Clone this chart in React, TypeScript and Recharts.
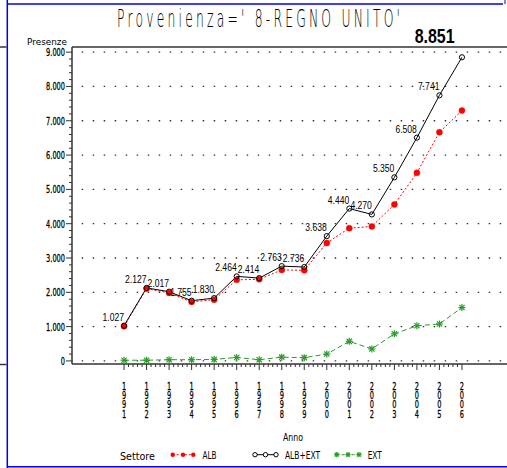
import React from 'react';
import { LineChart, Line, XAxis, YAxis, ReferenceLine, LabelList, Legend } from 'recharts';

// ---------- data ----------
const years = [1991, 1992, 1993, 1994, 1995, 1996, 1997, 1998, 1999, 2000, 2001, 2002, 2003, 2004, 2005, 2006];
const albExt = [1027, 2127, 2017, 1755, 1830, 2464, 2414, 2763, 2736, 3638, 4440, 4270, 5350, 6508, 7741, 8851];
const alb = [1007, 2107, 1982, 1720, 1785, 2364, 2379, 2653, 2641, 3438, 3870, 3920, 4560, 5483, 6666, 7296];
const ext = [20, 20, 35, 35, 45, 100, 35, 110, 95, 200, 570, 350, 790, 1025, 1075, 1555];
const yMajorTicks = [0, 1000, 2000, 3000, 4000, 5000, 6000, 7000, 8000, 9000];
const titleText = "Provenienza=' 8-REGNO UNITO'";
const yLabel = 'Presenze';
const xLabel = 'Anno';
const legendTitle = 'Settore';
const seriesNames = ['ALB', 'ALB+EXT', 'EXT'];

const data = years.map((year, i) => ({ year, alb: alb[i], albExt: albExt[i], ext: ext[i] }));

// minor tick positions (axis decoration)
const yTicks: number[] = [];
for (let v = 0; v <= 9000; v += 200) yTicks.push(v);
const xTicks: number[] = [];
for (let i = 0; i <= (2006 - 1991) * 5; i++) xTicks.push(1991 + i / 5);

const Y_DOMAIN: [number, number] = [-90, 9150];
const X_DOMAIN: [number, number] = [1988.69, 2008.31];

const RED = '#ff0000';
const GREEN = '#2a9a2a';
const AXIS = '#333333';
const NARROW = "'DejaVu Sans', sans-serif";
const LABELF = "'Liberation Sans', Arial, sans-serif";

const fmt = (v: number) => String(Math.round(v)).replace(/\B(?=(\d{3})+(?!\d))/g, '.');

const YTick = (props: any) => {
  const { x, y, payload } = props;
  const v = payload.value;
  const major = Math.abs(v % 1000) < 1e-6;
  return (
    <g>
      <line x1={x - (major ? 6 : 3)} x2={x} y1={y} y2={y} stroke={AXIS} strokeWidth={1} />
      {major && (
        <text transform={`translate(${x - 7},${y + 4}) scale(0.6,1)`} textAnchor="end" fontSize={11} fontFamily={NARROW} fill="#000" stroke="#000" strokeWidth={0.3}>
          {fmt(v)}
        </text>
      )}
    </g>
  );
};

const XTick = (props: any) => {
  const { x, y, payload } = props;
  const v = payload.value;
  const major = Math.abs(v - Math.round(v)) < 1e-6;
  return (
    <g>
      <line x1={x} x2={x} y1={y} y2={y + (major ? 6 : 3)} stroke={AXIS} strokeWidth={1} />
      {major && (
        <text
          transform={`translate(${x},${y + 16.2}) scale(0.6,1)`}
          x={0}
          y={0}
          fontSize={11}
          fontFamily={NARROW}
          fill="#000"
          stroke="#000"
          strokeWidth={0.3}
          textLength={40}
          lengthAdjust="spacing"
          style={{ writingMode: 'vertical-rl', textOrientation: 'upright' } as any}
        >
          {String(Math.round(v))}
        </text>
      )}
    </g>
  );
};

const RedDot = (props: any) => {
  const { cx, cy } = props;
  if (cx == null || cy == null) return <g />;
  return <circle cx={cx} cy={cy} r={3} fill={RED} stroke={RED} strokeWidth={0.5} />;
};

const OpenDot = (props: any) => {
  const { cx, cy } = props;
  if (cx == null || cy == null) return <g />;
  return <circle cx={cx} cy={cy} r={2.6} fill="none" stroke="#000" strokeWidth={1} />;
};

const Star = ({ cx, cy, r = 3.5 }: { cx: number; cy: number; r?: number }) => {
  const d = r * 0.75;
  return (
    <g stroke={GREEN} strokeWidth={1.2}>
      <line x1={cx - r} y1={cy} x2={cx + r} y2={cy} />
      <line x1={cx} y1={cy - r} x2={cx} y2={cy + r} />
      <line x1={cx - d} y1={cy - d} x2={cx + d} y2={cy + d} />
      <line x1={cx - d} y1={cy + d} x2={cx + d} y2={cy - d} />
    </g>
  );
};

const StarDot = (props: any) => {
  const { cx, cy } = props;
  if (cx == null || cy == null) return <g />;
  return <Star cx={cx} cy={cy} />;
};

const renderLabel = (props: any) => {
  const { x, y, value, index } = props;
  if (x == null || y == null) return null;
  if (index === albExt.length - 1) {
    return (
      <text transform={`translate(${x - 27.3},${y - 14}) scale(0.76,1)`} textAnchor="middle" fontSize={21} fontWeight="bold" fontFamily={LABELF} fill="#000">
        {fmt(value)}
      </text>
    );
  }
  return (
    <text transform={`translate(${x},${y - 5}) scale(0.78,1)`} textAnchor="end" fontSize={11} fontFamily={LABELF} fill="#000">
      {fmt(value)}
    </text>
  );
};

const NT = ({ x, y, w, size, anchor = 'start', children }: any) => (
  <text x={x} y={y} textLength={w} lengthAdjust="spacingAndGlyphs" fontSize={size} fontFamily={NARROW} textAnchor={anchor} fill="#000">
    {children}
  </text>
);

const renderLegend = () => (
  <svg width={507} height={28} style={{ display: 'block' }}>
    <g transform="translate(0,-440)">
      <NT x={120} y={460} w={35} size={11}>{legendTitle}</NT>
      {/* ALB */}
      <line x1={172.7} x2={193.3} y1={454.7} y2={454.7} stroke={RED} strokeDasharray="2 2" />
      {[172.7, 183, 193.3].map((cx, i) => (
        <circle key={i} cx={cx} cy={454.7} r={2.2} fill={RED} />
      ))}
      <NT x={202.5} y={459} w={14} size={10.5}>{seriesNames[0]}</NT>
      {/* ALB+EXT */}
      <line x1={255} x2={276} y1={454.7} y2={454.7} stroke="#000" />
      {[255, 265.5, 276].map((cx, i) => (
        <circle key={i} cx={cx} cy={454.7} r={2.2} fill="#fff" stroke="#000" />
      ))}
      <NT x={285} y={459} w={35} size={10.5}>{seriesNames[1]}</NT>
      {/* EXT */}
      <line x1={336.7} x2={359} y1={454.7} y2={454.7} stroke={GREEN} strokeDasharray="3 2" />
      {[336.7, 348, 359].map((cx, i) => (
        <Star key={i} cx={cx} cy={454.7} r={2.6} />
      ))}
      <NT x={367.7} y={459} w={14} size={10.5}>{seriesNames[2]}</NT>
    </g>
  </svg>
);

export default function App() {
  return (
    <div style={{ position: 'absolute', left: 0, top: 0, width: 507, height: 468, overflow: 'hidden', background: '#fff' }}>
      <LineChart width={530} height={468} data={data} margin={{ top: 47, right: 16, bottom: 74, left: 12 }}>
        <XAxis
          dataKey="year"
          type="number"
          domain={X_DOMAIN}
          ticks={xTicks}
          interval={0}
          tick={<XTick />}
          tickSize={0}
          tickMargin={0}
          tickLine={false}
          height={30}
          axisLine={{ stroke: AXIS, strokeWidth: 1.5 }}
          allowDataOverflow
        />
        <YAxis
          type="number"
          domain={Y_DOMAIN}
          ticks={yTicks}
          interval={0}
          tick={<YTick />}
          tickSize={0}
          tickMargin={0}
          tickLine={false}
          width={60}
          axisLine={{ stroke: AXIS, strokeWidth: 1.5 }}
          allowDataOverflow
        />
        {yMajorTicks.map((v) => (
          <ReferenceLine key={v} y={v} stroke={AXIS} strokeWidth={1.3} strokeDasharray="1.5 9.5" strokeDashoffset={1.3} />
        ))}
        <ReferenceLine y={Y_DOMAIN[1]} stroke={AXIS} strokeWidth={1.5} />
        <Line dataKey="ext" stroke={GREEN} strokeWidth={1} strokeDasharray="5 3" dot={<StarDot />} isAnimationActive={false} />
        <Line dataKey="alb" stroke={RED} strokeWidth={1} strokeDasharray="2 2" dot={<RedDot />} isAnimationActive={false} />
        <Line dataKey="albExt" stroke="#000" strokeWidth={1} dot={<OpenDot />} isAnimationActive={false}>
          <LabelList dataKey="albExt" content={renderLabel} />
        </Line>
        <Legend
          layout="horizontal"
          verticalAlign="middle"
          align="center"
          content={renderLegend}
          wrapperStyle={{ position: 'absolute', left: 0, top: 440, width: 507, height: 28 }}
        />
      </LineChart>
      <svg width={507} height={468} style={{ position: 'absolute', left: 0, top: 0, pointerEvents: 'none' }}>
        <line x1={7.3} x2={7.3} y1={0} y2={468} stroke="#0000ee" strokeWidth={1.5} />
        <line x1={7} x2={503} y1={4} y2={4} stroke="#0000ee" strokeWidth={1.5} />
        <line x1={505} x2={505} y1={0} y2={4} stroke="#0000ee" strokeWidth={1} />
        <line x1={7} x2={507} y1={466.7} y2={466.7} stroke="#0000ee" strokeWidth={1.5} />
        <line x1={0} x2={6.5} y1={47} y2={47} stroke={AXIS} strokeWidth={1.5} />
        <line x1={0} x2={6.5} y1={364.5} y2={364.5} stroke={AXIS} strokeWidth={1.5} />
        <text
          transform="translate(117,27.3) scale(0.5,1)"
          fontSize={24.7}
          fontWeight={300}
          fontFamily={NARROW}
          textLength={566}
          lengthAdjust="spacing"
          fill="#000"
        >
          {titleText}
        </text>
        <NT x={67} y={45} w={40} size={8} anchor="end">{yLabel}</NT>
        <NT x={293} y={440.7} w={20} size={11} anchor="middle">{xLabel}</NT>
      </svg>
    </div>
  );
}
